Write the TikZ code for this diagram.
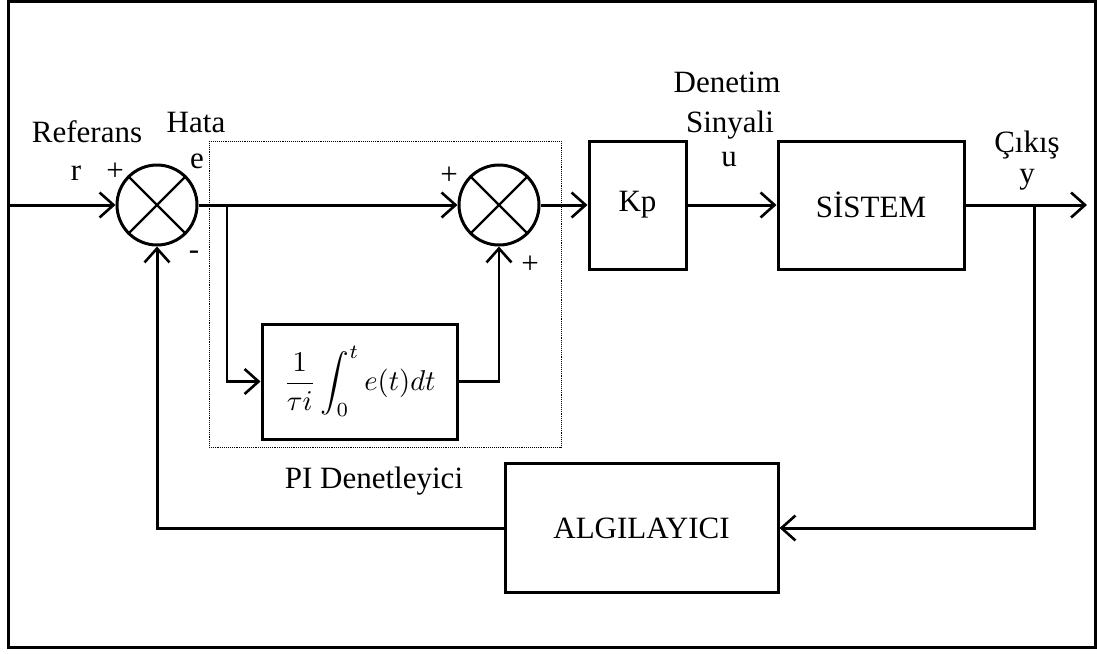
\documentclass[tikz,border=0pt]{standalone}
\usepackage{fontspec}
\usepackage{graphicx}
\setmainfont{Liberation Serif}
\usetikzlibrary{arrows.meta}
\begin{document}
\begin{tikzpicture}[x=1pt,y=-1pt,
  every node/.style={font=\fontsize{31}{35}\selectfont, inner sep=0pt},
  blk/.style={draw, line width=3pt, inner sep=0pt},
  sumj/.style={draw, circle, line width=3pt, minimum size=80pt, inner sep=0pt},
  conn/.style={line width=3pt},
  thinconn/.style={line width=2.3pt},
  arr/.style={-{Straight Barb[length=14pt,width=25pt,line width=2.6pt]}},
  lbl/.style={anchor=base}
]
\useasboundingbox (0,0) rectangle (1097,653);
\draw[line width=3pt] (8.5,1.5) rectangle (1095.5,647.5);

% dotted PI box
\draw[densely dotted, line width=0.9pt] (209,141) rectangle (561,447);

% summing junctions
\node[sumj] (s1) at (157,205) {};
\draw[line width=2.2pt] (s1.north west) -- (s1.south east) (s1.north east) -- (s1.south west);
\node[sumj] (s2) at (499,205) {};
\draw[line width=2.2pt] (s2.north west) -- (s2.south east) (s2.north east) -- (s2.south west);

% blocks
\node[blk, minimum width=195pt, minimum height=115pt] (ib) at (359.5,381.5)
  {\resizebox{152pt}{!}{\normalsize$\displaystyle \frac{1}{\tau i}\int_0^t e(t)dt$}};
\node[blk, minimum width=97pt, minimum height=128pt] (kp) at (637.5,205) {Kp};
\node[blk, minimum width=186pt, minimum height=128pt] (sys) at (871,205) {SİSTEM};
\node[blk, minimum width=273pt, minimum height=129pt] (alg) at (641.5,528) {ALGILAYICI};

% coordinates
\coordinate (in) at (10,205);
\coordinate (out) at (1087,205);
\coordinate (b1) at (227,205);
\coordinate (b2) at (1034,205);

% connectors
\draw[conn, arr] (in) -- (s1.west);
\draw[conn, arr] (s1.east) -- (s2.west);
\draw[thinconn, arr] (b1) |- (ib.west);
\draw[thinconn, arr] (ib.east) -| (s2.south);
\draw[conn, arr] (s2.east) -- (kp.west);
\draw[conn, arr] (kp.east) -- (sys.west);
\draw[conn, arr] (sys.east) -- (out);
\draw[conn, arr] (b2) |- (alg.east);
\draw[conn, arr] (alg.west) -| (s1.south);

% labels
\node[lbl] (tref) at (87,142) {Referans};
\node[lbl] (thata) at (196,132) {Hata};
\node[lbl] (tr) at (76,180) {r};
\node (tp1) at (115,172) {+};
\node[lbl] (te) at (197,168) {e};
\node (tm) at (194,255) {-};
\node (tp2) at (449,176) {+};
\node (tp3) at (530,265) {+};
\node[lbl] (tden) at (727,92) {Denetim};
\node[lbl] (tsin) at (730,132) {Sinyali};
\node[lbl] (tu) at (729,166) {u};
\node[lbl] (tcik) at (1027,152) {Çıkış};
\node[lbl] (ty) at (1027,183) {y};
\node[lbl] (tpi) at (374,488) {PI Denetleyici};
\end{tikzpicture}
\end{document}
